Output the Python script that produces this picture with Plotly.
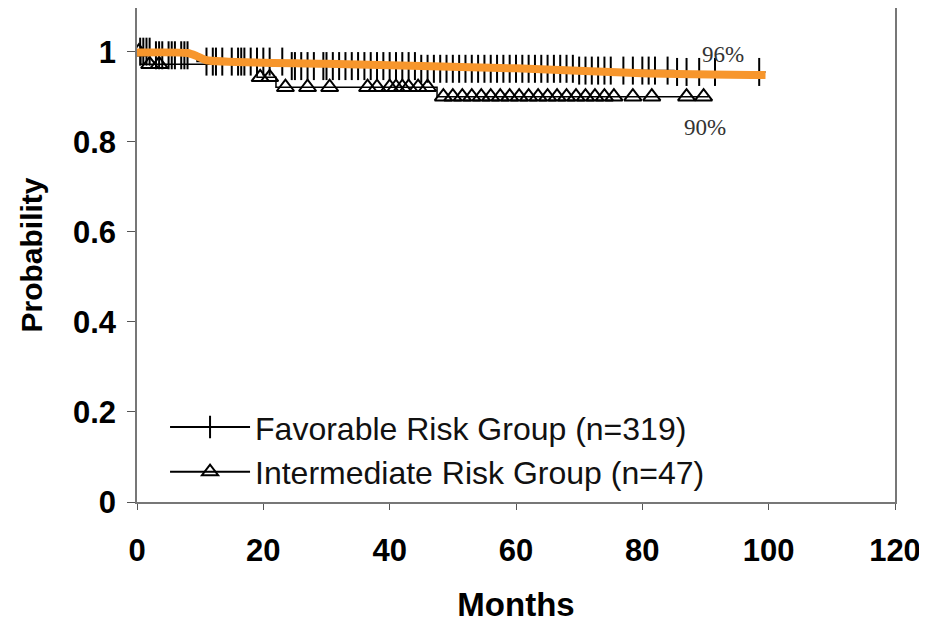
import numpy as np
import plotly.graph_objects as go

# ---------------- data ----------------
fav_times = [0, 2.5, 9.5, 24, 45, 70, 85, 99.5]
fav_surv = [1.0, 0.992, 0.978, 0.968, 0.962, 0.958, 0.955, 0.955]
fav_censor = [0.5, 1, 1.5, 2, 3, 3.5, 4, 5, 5.5, 6, 7, 7.5, 8,
              11, 12, 12.5, 13.5, 15, 16, 16.5, 17, 18, 19, 20, 21,
              23, 24.5, 25, 26, 27, 28, 29.5, 30, 31, 32, 33, 34, 35, 36,
              37, 38, 39, 40, 41, 42, 43, 44, 45, 46, 47, 48, 49, 50,
              51, 52, 53, 54, 55, 56, 57, 58, 59, 60, 61, 62, 63, 64,
              65, 66, 67, 68, 69, 70, 71, 72, 73, 74, 75, 77, 78.5,
              80, 81, 82, 84, 85.5, 87, 89, 91.5, 98.5]

int_times = [0, 0.6, 19, 22, 47.5, 90.5]
int_surv = [1.0, 0.972, 0.943, 0.921, 0.90, 0.90]
int_censor = [0.3, 2, 3.5, 19.5, 21, 23.5, 27, 30.5, 36.5, 38, 40, 41,
              42, 43, 44.5, 46, 48.5, 50, 51.5, 53, 54.5, 56, 57.5,
              59, 60.5, 62, 63.5, 65, 66.5, 68, 69.5, 71, 72.5, 74,
              75.5, 78.5, 81.5, 87, 89.7]

fit_x = [0, 8, 9.5, 11, 30, 60, 80, 99.5]
fit_y = [0.998, 0.997, 0.99, 0.981, 0.973, 0.963, 0.952, 0.948]

x_ticks = [0, 20, 40, 60, 80, 100, 120]
y_ticks = [0, 0.2, 0.4, 0.6, 0.8, 1]
y_tick_text = ["0", "0.2", "0.4", "0.6", "0.8", "1"]

fav_label = "Favorable Risk Group (n=319)"
int_label = "Intermediate Risk Group (n=47)"
fav_pct = "96%"
int_pct = "90%"


def step_value(times, surv, t):
    idx = np.searchsorted(np.array(times), np.array(t), side="right") - 1
    return np.array(surv)[idx]


SANS = "Liberation Sans, Arial, sans-serif"
SERIF = "Liberation Serif, Times New Roman, serif"
ORANGE = "#F7962C"

fig = go.Figure()

# Favorable step curve
fig.add_trace(go.Scatter(x=fav_times, y=fav_surv, mode="lines",
                         line=dict(color="black", width=1.5, shape="hv"),
                         showlegend=False, hoverinfo="skip"))
fig.add_trace(go.Scatter(x=fav_censor, y=step_value(fav_times, fav_surv, fav_censor),
                         mode="markers",
                         marker=dict(symbol="line-ns-open", size=20, color="black",
                                     line=dict(color="black", width=2)),
                         showlegend=False, hoverinfo="skip"))

# Intermediate step curve
fig.add_trace(go.Scatter(x=int_times, y=int_surv, mode="lines",
                         line=dict(color="black", width=1.5, shape="hv"),
                         showlegend=False, hoverinfo="skip"))
fig.add_trace(go.Scatter(x=int_censor, y=step_value(int_times, int_surv, int_censor),
                         mode="markers",
                         marker=dict(symbol="triangle-up-open", size=15, color="black",
                                     line=dict(color="black", width=2)),
                         showlegend=False, hoverinfo="skip"))

# Orange overlay line
fig.add_trace(go.Scatter(x=fit_x, y=fit_y, mode="lines",
                         line=dict(color=ORANGE, width=8, shape="spline", smoothing=0.6),
                         showlegend=False, hoverinfo="skip"))

# Legend entries
fig.add_trace(go.Scatter(x=[None], y=[None], mode="lines+markers", name=fav_label,
                         line=dict(color="black", width=2),
                         marker=dict(symbol="line-ns-open", size=16, color="black",
                                     line=dict(color="black", width=2))))
fig.add_trace(go.Scatter(x=[None], y=[None], mode="lines+markers", name=int_label,
                         line=dict(color="black", width=2),
                         marker=dict(symbol="triangle-up-open", size=14, color="black",
                                     line=dict(color="black", width=2))))

fig.add_annotation(x=fav_times[-1] - 6.7, y=fav_surv[-1], text=fav_pct,
                   showarrow=False, yanchor="bottom", yshift=3,
                   font=dict(family=SERIF, size=23, color="#333"))
fig.add_annotation(x=int_times[-1] - 0.6, y=int_surv[-1], text=int_pct,
                   showarrow=False, yanchor="top", yshift=-16,
                   font=dict(family=SERIF, size=23, color="#333"))

# The page body adds an 8px offset, so the figure size and margins compensate for it.
fig.update_layout(
    width=919, height=615,
    margin=dict(l=129, r=32, t=0, b=121),
    paper_bgcolor="white", plot_bgcolor="white",
    font=dict(family=SANS, color="black"),
    showlegend=True,
    legend=dict(x=0.037, y=0.207, xanchor="left", yanchor="top",
                bgcolor="rgba(0,0,0,0)", borderwidth=0,
                font=dict(family=SANS, size=32, color="#111"),
                itemwidth=80, tracegroupgap=0),
    xaxis=dict(range=[0, 120], tickvals=x_ticks, showgrid=False, zeroline=False,
               automargin=False,
               showline=True, linecolor="#777", linewidth=1.5, mirror=True,
               ticks="outside", ticklen=6, tickcolor="#555",
               ticklabelstandoff=14,
               tickfont=dict(family=SANS, size=31, weight="bold", color="black"),
               title=dict(text="Months", standoff=28,
                          font=dict(family=SANS, size=33, weight="bold", color="black"))),
    yaxis=dict(range=[0, 1.097], tickvals=y_ticks, ticktext=y_tick_text,
               automargin=False,
               showgrid=False, zeroline=False,
               showline=True, linecolor="#777", linewidth=1.5, mirror=True,
               ticks="outside", ticklen=8, tickcolor="#555",
               ticklabelstandoff=5,
               tickfont=dict(family=SANS, size=31, weight="bold", color="black"),
               title=dict(text="Probability", standoff=21,
                          font=dict(family=SANS, size=30, weight="bold", color="black"))),
)

fig.write_html("out.html")
